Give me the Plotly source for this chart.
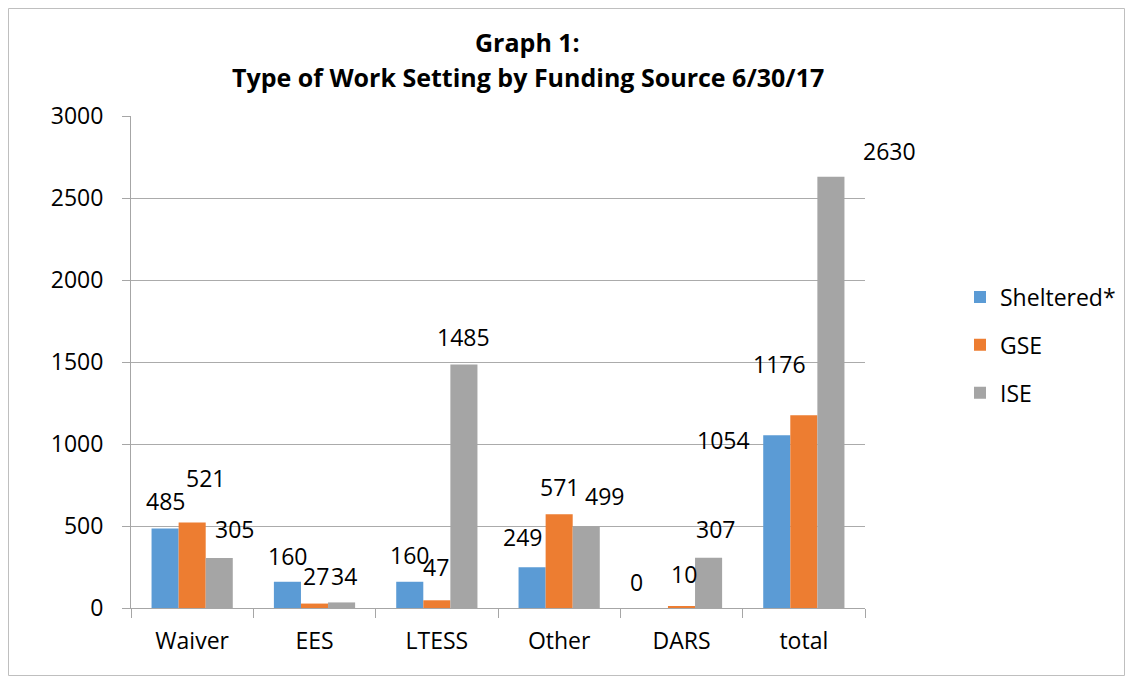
import plotly.graph_objects as go

categories = ["Waiver", "EES", "LTESS", "Other", "DARS", "total"]
series_names = ["Sheltered*", "GSE", "ISE"]
sheltered = [485, 160, 160, 249, 0, 1054]
gse = [521, 27, 47, 571, 10, 1176]
ise = [305, 34, 1485, 499, 307, 2630]
colors = ["#5B9BD5", "#ED7D31", "#A5A5A5"]

# label offsets (px) relative to the top-centre of each bar, as placed in the source
label_dx = [
    [0, 0, 0, -10, -18, -53],
    [13, 1, -1, 0, 2, -24],
    [15, 2, 0, 18, 7, 59],
]
label_dy = [
    [27, 26, 27, 30, 26, -5],
    [45, 28, 33, 27, 32, 51],
    [29, 26, 27, 30, 29, 26],
]

FONT = "'Open Sans', 'Noto Sans', sans-serif"
FS = 23
W, H = 1117, 668
L, T = 123, 108
pw, ph = 734, 492
R, B = W - L - pw, H - T - ph
bargap = 0.336
bar_w = pw / len(categories) * (1 - bargap) / 3

fig = go.Figure()
all_vals = [sheltered, gse, ise]
for i, (name, vals) in enumerate(zip(series_names, all_vals)):
    fig.add_trace(go.Bar(
        x=categories, y=vals, name=name,
        marker=dict(color=colors[i], line=dict(width=0)),
        legendgroup=name,
    ))

annotations = []
for i, vals in enumerate(all_vals):
    for j, v in enumerate(vals):
        annotations.append(dict(
            x=categories[j], y=v, xref="x", yref="y",
            text=str(v), showarrow=False,
            xshift=(i - 1) * bar_w + label_dx[i][j],
            yshift=label_dy[i][j],
            xanchor="center", yanchor="middle",
            font=dict(family=FONT, size=FS, color="#000000"),
        ))

title_cx = (519.5 - L) / pw
annotations.append(dict(x=title_cx, y=(H - B - 34) / ph, xref="paper", yref="paper",
                        text="<b>Graph 1:</b>", showarrow=False, xanchor="center", yanchor="middle",
                        font=dict(family=FONT, size=25, color="#000000")))
annotations.append(dict(x=title_cx, y=(H - B - 69) / ph, xref="paper", yref="paper",
                        text="<b>Type of Work Setting by Funding Source 6/30/17</b>", showarrow=False,
                        xanchor="center", yanchor="middle",
                        font=dict(family=FONT, size=25, color="#000000")))

fig.update_layout(
    width=W, height=H,
    margin=dict(l=L, r=R, t=T, b=B, autoexpand=False),
    paper_bgcolor="white", plot_bgcolor="white",
    barmode="group", bargap=bargap, bargroupgap=0,
    font=dict(family=FONT, size=FS, color="#000000"),
    showlegend=True,
    legend=dict(x=(952 - L) / pw, y=(H - B - 337) / ph, xanchor="left", yanchor="middle",
                font=dict(family=FONT, size=FS, color="#000000"),
                tracegroupgap=15, bgcolor="rgba(0,0,0,0)"),
    annotations=annotations,
    shapes=[dict(type="rect", xref="paper", yref="paper",
                 x0=(0.5 - L) / pw, x1=(W - 0.5 - L) / pw,
                 y0=(0.5 - B) / ph, y1=(H - 0.5 - B) / ph,
                 line=dict(color="#BFBFBF", width=1), fillcolor="rgba(0,0,0,0)", layer="below")],
)

fig.update_xaxes(
    type="category", range=[-0.5, len(categories) - 0.5], autorange=False,
    showline=True, linecolor="#A6A6A6", linewidth=1,
    ticks="outside", tickson="boundaries", ticklen=9, tickcolor="#A6A6A6",
    ticklabelstandoff=12,
    showgrid=False, tickfont=dict(family=FONT, size=FS, color="#000000"),
)
fig.update_yaxes(
    range=[0, 3000], autorange=False, dtick=500, showline=True, linecolor="#A6A6A6", linewidth=1,
    ticks="outside", ticklen=8, tickcolor="#A6A6A6", ticklabelstandoff=14,
    showgrid=True, gridcolor="#ABABAB", gridwidth=1, zeroline=False,
    tickfont=dict(family=FONT, size=FS, color="#000000"),
)

fig.write_html("out.html")
